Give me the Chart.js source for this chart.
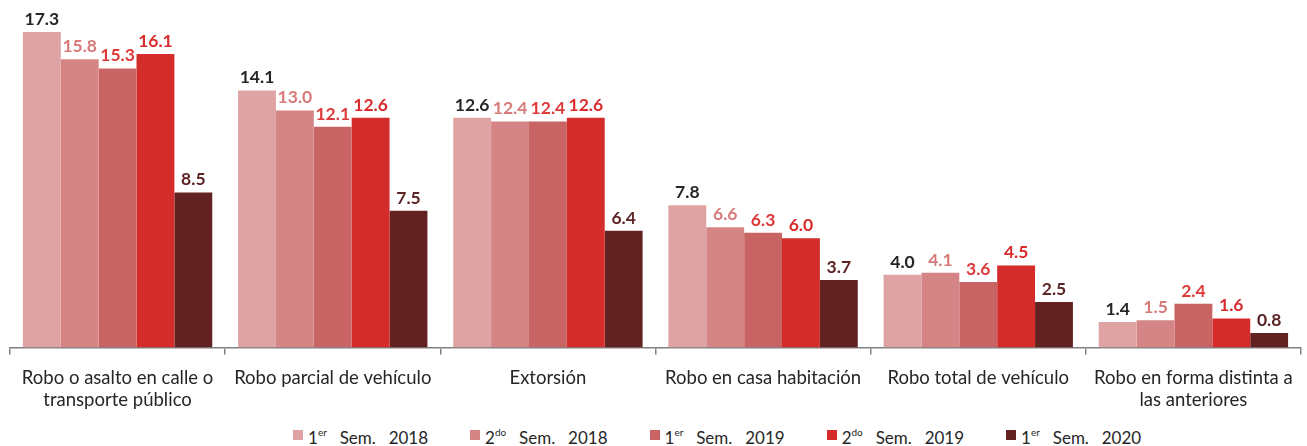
<!DOCTYPE html>
<html><head><meta charset="utf-8">
<script src="https://cdn.jsdelivr.net/npm/chart.js@4/dist/chart.umd.min.js"></script>
<style>
html,body{margin:0;padding:0;background:#fff;}
#wrap{position:relative;width:1307px;height:446px;overflow:hidden;}
#c{position:absolute;left:0;top:0;}
#legend{position:absolute;left:293px;top:424px;display:flex;font-family:Lato,sans-serif;font-size:17px;color:#262626;line-height:18px;}
.li{display:flex;align-items:center;margin-right:42px;word-spacing:8.5px;}
.bx{width:10px;height:10px;margin-right:5px;}
sup{font-size:10px;word-spacing:0;position:relative;top:-1px;}
</style></head>
<body><div id="wrap"><canvas id="c" width="1307" height="423"></canvas><div id="legend"></div></div>
<script>
const categories = [
  ["Robo o asalto en calle o","transporte público"],
  "Robo parcial de vehículo",
  "Extorsión",
  "Robo en casa habitación",
  "Robo total de vehículo",
  ["Robo en forma distinta a","las anteriores"]
];
const seriesNames = [["1","er","Sem. 2018"],["2","do","Sem. 2018"],["1","er","Sem. 2019"],["2","do","Sem. 2019"],["1","er","Sem. 2020"]];
const sem1_2018 = [17.3,14.1,12.6,7.8,4.0,1.4];
const sem2_2018 = [15.8,13.0,12.4,6.6,4.1,1.5];
const sem1_2019 = [15.3,12.1,12.4,6.3,3.6,2.4];
const sem2_2019 = [16.1,12.6,12.6,6.0,4.5,1.6];
const sem1_2020 = [8.5,7.5,6.4,3.7,2.5,0.8];

const barColors = ["#dfa3a3","#d58585","#c96464","#d42b2b","#622222"];
const labelColors = ["#262626","#d77a7a","#dd3a3a","#d92b2b","#5c2424"];
const values = [sem1_2018,sem2_2018,sem1_2019,sem2_2019,sem1_2020];

const labelPlugin = {
  id:'vals',
  afterDatasetsDraw(chart){
    const ctx = chart.ctx;
    ctx.save();
    ctx.font = 'bold 17.5px Lato, sans-serif';
    ctx.textAlign='center';
    ctx.textBaseline='bottom';
    chart.data.datasets.forEach((ds,i)=>{
      const meta = chart.getDatasetMeta(i);
      meta.data.forEach((bar,j)=>{
        ctx.fillStyle = labelColors[i];
        ctx.fillText(ds.data[j].toFixed(1), bar.x, bar.y-4);
      });
    });
    ctx.restore();
  }
};

new Chart(document.getElementById('c'),{
  type:'bar',
  data:{
    labels:categories,
    datasets: values.map((v,i)=>({
      label: seriesNames[i].join(' '),
      data:v,
      backgroundColor:barColors[i],
      barPercentage:1.0,
      categoryPercentage:0.88
    }))
  },
  options:{
    responsive:false,
    animation:false,
    layout:{padding:{left:10,right:6,top:1,bottom:0}},
    plugins:{legend:{display:false},tooltip:{enabled:false}},
    scales:{
      x:{
        grid:{display:true,drawOnChartArea:false,offset:true,color:'#808080',tickLength:7,lineWidth:1.5},
        border:{display:true,color:'#808080',width:1.5},
        ticks:{color:'#262626',font:{family:'Lato, sans-serif',size:18.5,lineHeight:1.2},padding:12,maxRotation:0,autoSkip:false}
      },
      y:{display:false,min:0,max:19}
    }
  },
  plugins:[labelPlugin]
});

const lg = document.getElementById('legend');
seriesNames.forEach((n,i)=>{
  const d=document.createElement('div');d.className='li';
  d.innerHTML='<span class="bx" style="background:'+barColors[i]+'"></span><span>'+n[0]+'<sup>'+n[1]+'</sup> '+n[2]+'</span>';
  lg.appendChild(d);
});
</script></body></html>
